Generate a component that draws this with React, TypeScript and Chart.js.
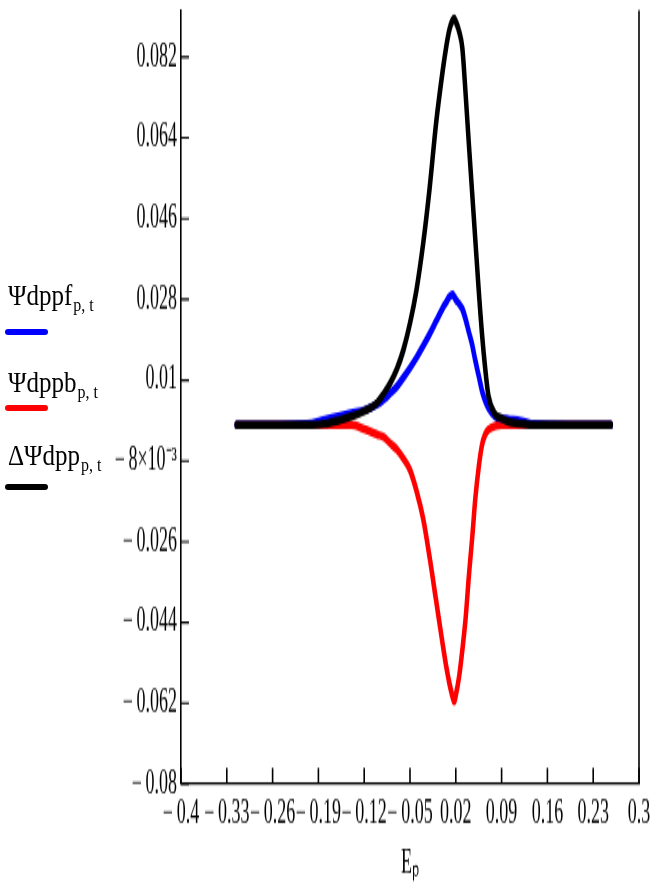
import React, { useEffect, useRef } from "react";
import { Chart, registerables } from "chart.js";

Chart.register(...registerables);

// ---- data ----
const energies = [
  -0.315, -0.2, -0.18, -0.16, -0.14, -0.12, -0.1, -0.09, -0.08, -0.07, -0.06, -0.05, -0.04,
  -0.03, -0.02, -0.01, 0, 0.005, 0.01, 0.015, 0.0175, 0.02, 0.025, 0.03, 0.035, 0.04, 0.045,
  0.05, 0.055, 0.06, 0.065, 0.07, 0.08, 0.09, 0.1, 0.12, 0.14, 0.257,
];
const psiForward = [
  0, 0.0004, 0.0012, 0.0019, 0.0026, 0.0033, 0.0046, 0.0057, 0.0071, 0.0086, 0.0106, 0.0127,
  0.015, 0.0176, 0.0203, 0.0232, 0.0261, 0.0273, 0.0285, 0.0291, 0.0286, 0.028, 0.027, 0.0259,
  0.0236, 0.0207, 0.0179, 0.0143, 0.011, 0.0077, 0.0054, 0.0038, 0.0019, 0.0015, 0.0013,
  0.0009, 0.0002, 0,
];
const psiBackward = [
  0, 0, 0, 0, 0, -0.0009, -0.0021, -0.0027, -0.0041, -0.0055, -0.0075, -0.01, -0.0147,
  -0.0208, -0.0295, -0.0392, -0.0489, -0.0535, -0.0574, -0.0605, -0.0616, -0.0602, -0.0561,
  -0.0501, -0.0431, -0.0336, -0.0252, -0.0161, -0.0094, -0.0045, -0.0021, -0.001, -0.0002, 0,
  0, 0, 0, 0,
];
const psiDelta = [
  0, 0, 0.0003, 0.001, 0.0019, 0.0031, 0.005, 0.007, 0.0094, 0.0125, 0.0168, 0.0227, 0.0302,
  0.0403, 0.0528, 0.0674, 0.079, 0.084, 0.088, 0.0902, 0.0906, 0.0899, 0.0878, 0.084, 0.0738,
  0.0626, 0.0518, 0.0409, 0.0301, 0.0204, 0.0125, 0.0064, 0.0024, 0.0015, 0.0008, 0.0003, 0, 0,
];

const xTickValues = [-0.4, -0.33, -0.26, -0.19, -0.12, -0.05, 0.02, 0.09, 0.16, 0.23, 0.3];
const xTickLabels = [
  "\u2212\u20090.4", "\u2212\u20090.33", "\u2212\u20090.26", "\u2212\u20090.19", "\u2212\u20090.12",
  "\u2212\u20090.05", "0.02", "0.09", "0.16", "0.23", "0.3",
];
const yTickValues = [-0.08, -0.062, -0.044, -0.026, -0.008, 0.01, 0.028, 0.046, 0.064, 0.082];
const yTickLabels = [
  "\u2212\u20090.08", "\u2212\u20090.062", "\u2212\u20090.044", "\u2212\u20090.026",
  "\u2212\u20098\u00d710\u207b\u00b3", "0.01", "0.028", "0.046", "0.064", "0.082",
];
const seriesNames = ["\u03a8dppf", "\u03a8dppb", "\u0394\u03a8dpp"];
const seriesSubscript = "p, t";
const xTitle = "E\u209a";

const X_MIN = -0.4;
const X_MAX = 0.3;
const Y_MIN = -0.08;
const Y_MAX = 0.0925;

// ---- layout ----
const W = 662;
const H = 895;
const CH = 484; // canvas height before vertical stretch
const K = H / CH;
const PLOT_LEFT = 181;
const PLOT_RIGHT = 639;
const PLOT_TOP = 10 / K;
const PLOT_BOTTOM = 784 / K;
const FONT = "'Liberation Serif', 'Times New Roman', serif";
const COLORS = ["#0000ff", "#ff0000", "#000000"];
const LEGEND_TEXT_TOP = [280, 367, 440];
const LEGEND_LINE_Y = [332, 408, 487];

const findLabel = (vals: number[], labels: string[], v: number) => {
  const i = vals.findIndex((t) => Math.abs(t - v) < 1e-9);
  return i >= 0 ? labels[i] : "";
};

const frameTicks = {
  id: "frameTicks",
  afterDraw(chart: any) {
    const { ctx, chartArea, scales } = chart;
    ctx.save();
    ctx.strokeStyle = "#000";
    ctx.lineWidth = 1.6;
    ctx.beginPath();
    ctx.moveTo(chartArea.right, chartArea.top);
    ctx.lineTo(chartArea.right, chartArea.bottom);
    ctx.stroke();
    ctx.lineWidth = 1.6;
    ctx.beginPath();
    scales.x.ticks.forEach((t: any) => {
      const px = scales.x.getPixelForValue(t.value);
      ctx.moveTo(px, chartArea.bottom);
      ctx.lineTo(px, chartArea.bottom - 8.6);
    });
    ctx.stroke();
    ctx.lineWidth = 1.1;
    ctx.beginPath();
    scales.y.ticks.forEach((t: any) => {
      const py = scales.y.getPixelForValue(t.value);
      ctx.moveTo(chartArea.left, py);
      ctx.lineTo(chartArea.left + 8, py);
    });
    ctx.stroke();
    ctx.restore();
  },
};

export default function App() {
  const ref = useRef<HTMLCanvasElement | null>(null);

  useEffect(() => {
    if (!ref.current) return;
    const series = [psiForward, psiBackward, psiDelta];
    const orders = [1, 2, 0];
    const chart = new Chart(ref.current, {
      type: "line",
      data: {
        datasets: series.map((vals, s) => ({
          label: seriesNames[s] + " " + seriesSubscript,
          data: energies.map((e, i) => ({ x: e, y: vals[i] })),
          borderColor: COLORS[s],
          backgroundColor: COLORS[s],
          borderWidth: 4.5,
          pointRadius: 0,
          cubicInterpolationMode: "monotone",
          borderCapStyle: "round",
          borderJoinStyle: "round",
          fill: false,
          order: orders[s],
        })),
      },
      options: {
        animation: false,
        responsive: false,
        maintainAspectRatio: false,
        devicePixelRatio: 1,
        layout: { padding: { left: 0, right: W - PLOT_RIGHT, top: PLOT_TOP, bottom: 0 } },
        plugins: { legend: { display: false }, tooltip: { enabled: false } },
        scales: {
          x: {
            type: "linear",
            min: X_MIN,
            max: X_MAX,
            afterBuildTicks: (scale: any) => {
              scale.ticks = xTickValues.map((v) => ({ value: v }));
            },
            afterFit: (scale: any) => {
              scale.height = CH - PLOT_BOTTOM;
              scale.paddingLeft = 0;
              scale.paddingRight = 0;
            },
            grid: { display: true, drawOnChartArea: false, drawTicks: false },
            border: { display: true, color: "#000", width: 1.3 },
            ticks: {
              autoSkip: false,
              maxRotation: 0,
              minRotation: 0,
              padding: 5,
              color: "#000",
              font: { family: FONT, size: 18 },
              callback: (v: any) => findLabel(xTickValues, xTickLabels, Number(v)),
            },
            title: {
              display: true,
              text: xTitle,
              color: "#000",
              font: { family: FONT, size: 18 },
              padding: { top: 0, bottom: 6 },
            },
          },
          y: {
            type: "linear",
            min: Y_MIN,
            max: Y_MAX,
            afterBuildTicks: (scale: any) => {
              scale.ticks = yTickValues.map((v) => ({ value: v }));
            },
            afterFit: (scale: any) => {
              scale.width = PLOT_LEFT;
              scale.paddingTop = 0;
              scale.paddingBottom = 0;
            },
            grid: { display: true, drawOnChartArea: false, drawTicks: false },
            border: { display: true, color: "#000", width: 1.6 },
            ticks: {
              autoSkip: false,
              padding: 4,
              color: "#000",
              font: { family: FONT, size: 18 },
              callback: (v: any) => findLabel(yTickValues, yTickLabels, Number(v)),
            },
          },
        },
      } as any,
      plugins: [frameTicks],
    });
    return () => chart.destroy();
  }, []);

  return (
    <div
      style={{
        position: "fixed",
        left: 0,
        top: 0,
        width: W,
        height: H,
        overflow: "hidden",
        background: "#fff",
      }}
    >
      <div
        style={{
          position: "absolute",
          left: 0,
          top: 0,
          width: W,
          height: CH,
          transform: `scaleY(${K})`,
          transformOrigin: "0 0",
        }}
      >
        <canvas ref={ref} width={W} height={CH} style={{ display: "block" }} />
      </div>
      {seriesNames.map((name, i) => (
        <React.Fragment key={name}>
          <div
            style={{
              position: "absolute",
              left: 8,
              top: LEGEND_TEXT_TOP[i],
              fontFamily: FONT,
              fontSize: 25,
              lineHeight: "25px",
              color: "#000",
              whiteSpace: "nowrap",
              transform: "scaleY(1.2)",
              transformOrigin: "0 0",
            }}
          >
            {name}
            <span style={{ fontSize: 16, position: "relative", top: 5, marginLeft: 1 }}>
              {seriesSubscript}
            </span>
          </div>
          <div
            style={{
              position: "absolute",
              left: 5,
              top: LEGEND_LINE_Y[i] - 3,
              width: 43,
              height: 6,
              borderRadius: 3,
              background: COLORS[i],
            }}
          />
        </React.Fragment>
      ))}
    </div>
  );
}
